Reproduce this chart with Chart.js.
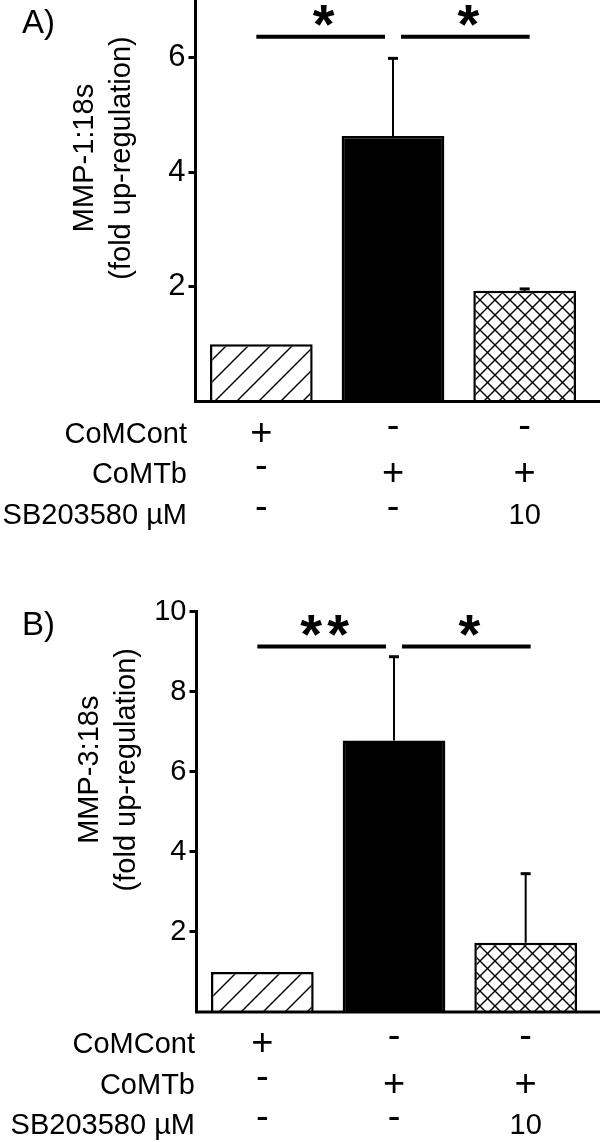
<!DOCTYPE html>
<html>
<head>
<meta charset="utf-8">
<script src="https://cdn.jsdelivr.net/npm/chart.js@4.4.0/dist/chart.umd.min.js"></script>
<style>
  html, body { margin: 0; padding: 0; background: #fff; }
  .panel { position: absolute; left: 0; width: 600px; height: 571px; }
  #panelA { top: 0; }
  #panelB { top: 571px; }
</style>
</head>
<body>
<div class="panel" id="panelA"><canvas id="chartA" width="600" height="571"></canvas></div>
<div class="panel" id="panelB"><canvas id="chartB" width="600" height="571"></canvas></div>
<script>
// Datos
const categories = ['CoMCont', 'CoMTb', 'CoMTb + SB203580'];
const rowLabels = ['CoMCont', 'CoMTb', 'SB203580 µM'];
const rowValues = [
    ['+', '-', '-'],
    ['-', '+', '+'],
    ['-', '-', '10']
];

const mmp1Values = [1.0, 4.63, 1.93];
const mmp1Errors = [0, 1.37, 0.05];
const mmp1Ticks = [2, 4, 6];
const mmp1Sig = [
    { from: 0, to: 1, y: 6.36, label: '*' },
    { from: 1, to: 2, y: 6.36, label: '*' }
];

const mmp3Values = [1.0, 6.78, 1.73];
const mmp3Errors = [0, 2.12, 1.75];
const mmp3Ticks = [2, 4, 6, 8, 10];
const mmp3Sig = [
    { from: 0, to: 1, y: 9.13, label: '**' },
    { from: 1, to: 2, y: 9.13, label: '*' }
];

const FONT = '"Liberation Sans", Arial, Helvetica, sans-serif';

function makeHatch(size, cross) {
    const c = document.createElement('canvas');
    c.width = size;
    c.height = size;
    const ctx = c.getContext('2d');
    ctx.fillStyle = '#fff';
    ctx.fillRect(0, 0, size, size);
    ctx.strokeStyle = '#000';
    ctx.lineWidth = 1.4;
    const seg = (x1, y1, x2, y2) => { ctx.beginPath(); ctx.moveTo(x1, y1); ctx.lineTo(x2, y2); ctx.stroke(); };
    seg(-1, size + 1, size + 1, -1);
    seg(-3, 3, 3, -3);
    seg(size - 3, size + 3, size + 3, size - 3);
    if (cross) {
        seg(-1, -1, size + 1, size + 1);
        seg(-3, size - 3, 3, size + 3);
        seg(size - 3, -3, size + 3, 3);
    }
    return ctx.createPattern(c, 'repeat');
}

const extrasPlugin = {
    id: 'extras',
    afterDatasetsDraw(chart) {
        const o = chart.options.plugins.extras;
        const ctx = chart.ctx;
        const x = chart.scales.x, y = chart.scales.y;
        const area = chart.chartArea;
        ctx.save();
        ctx.strokeStyle = '#000';
        ctx.fillStyle = '#000';

        // eje x prolongado hasta el borde
        ctx.lineWidth = 3;
        ctx.beginPath();
        ctx.moveTo(area.left - 1.5, area.bottom);
        ctx.lineTo(600, area.bottom);
        ctx.stroke();

        // barras de error (solo hacia arriba)
        o.values.forEach((v, i) => {
            const err = o.errors[i];
            if (!err) return;
            const cx = x.getPixelForValue(i);
            const top = y.getPixelForValue(v + err);
            ctx.lineWidth = 2;
            ctx.beginPath();
            ctx.moveTo(cx, y.getPixelForValue(v));
            ctx.lineTo(cx, top);
            ctx.stroke();
            ctx.lineWidth = 3;
            ctx.beginPath();
            ctx.moveTo(cx - 5, top + 1);
            ctx.lineTo(cx + 5, top + 1);
            ctx.stroke();
        });

        // líneas de significancia
        o.sig.forEach(s => {
            const ly = y.getPixelForValue(s.y);
            const x1 = x.getPixelForValue(s.from) + (s.from === 1 ? 8 : -5);
            const x2 = x.getPixelForValue(s.to) + (s.to === 1 ? -8 : 5);
            ctx.lineWidth = 4;
            ctx.beginPath();
            ctx.moveTo(x1, ly);
            ctx.lineTo(x2, ly);
            ctx.stroke();
            ctx.font = 'bold 56px ' + FONT;
            ctx.textAlign = 'center';
            ctx.textBaseline = 'alphabetic';
            const mid = (x1 + x2) / 2 + 3;
            const n = s.label.length;
            for (let k = 0; k < n; k++) {
                ctx.fillText('*', mid + (k - (n - 1) / 2) * 27, ly + 6);
            }
        });
        ctx.restore();
    },
    afterDraw(chart) {
        const o = chart.options.plugins.extras;
        const ctx = chart.ctx;
        const x = chart.scales.x;
        const area = chart.chartArea;
        ctx.save();
        ctx.fillStyle = '#000';

        // título del eje y (dos líneas, rotado)
        ctx.font = '29px ' + FONT;
        ctx.textAlign = 'center';
        ctx.textBaseline = 'middle';
        o.title.forEach((line, i) => {
            ctx.save();
            ctx.translate(o.titleX[i], area.top + o.titleMid);
            ctx.rotate(-Math.PI / 2);
            ctx.fillText(line, 0, 0);
            ctx.restore();
        });

        // letra del panel
        ctx.font = '33px ' + FONT;
        ctx.textAlign = 'left';
        ctx.textBaseline = 'alphabetic';
        ctx.fillText(o.letter, 22, o.letterY);

        // tabla de tratamientos bajo el eje
        rowLabels.forEach((label, r) => {
            const by = area.bottom + 41 + r * 40.5;
            ctx.font = '29px ' + FONT;
            ctx.textAlign = 'right';
            ctx.fillText(label, o.labelRight, by);
            ctx.textAlign = 'center';
            rowValues[r].forEach((val, c) => {
                const cx = x.getPixelForValue(c);
                if (val === '+' || val === '-') {
                    ctx.font = '38px ' + FONT;
                    ctx.fillText(val, cx, val === '-' ? by - 5 : by + 2);
                } else {
                    ctx.font = '29px ' + FONT;
                    ctx.fillText(val, cx, by);
                }
            });
        });
        ctx.restore();
    }
};

function buildPanel(canvasId, p) {
    const canvas = document.getElementById(canvasId);
    const H = canvas.height;
    return new Chart(canvas.getContext('2d'), {
        type: 'bar',
        data: {
            labels: categories,
            datasets: [{
                data: p.values,
                backgroundColor: [makeHatch(22, false), '#000', makeHatch(15, true)],
                borderColor: '#000',
                borderWidth: 2.5,
                barPercentage: 0.78,
                categoryPercentage: 1
            }]
        },
        options: {
            responsive: false,
            animation: false,
            devicePixelRatio: 1,
            layout: { padding: { top: p.top, right: 600 - p.right, left: 0, bottom: 0 } },
            plugins: {
                legend: { display: false },
                tooltip: { enabled: false },
                extras: {
                    values: p.values, errors: p.errors, sig: p.sig,
                    title: p.title, titleX: p.titleX, titleMid: 158,
                    letter: p.letter, letterY: p.letterY, labelRight: p.labelRight
                }
            },
            scales: {
                x: {
                    grid: { display: false },
                    border: { display: false },
                    ticks: { display: false },
                    afterFit: s => { s.height = H - p.bottom; s.paddingLeft = 0; s.paddingRight = 0; }
                },
                y: {
                    min: 0,
                    max: p.max,
                    afterBuildTicks: s => { s.ticks = p.ticks.map(v => ({ value: v })); },
                    afterFit: s => { s.width = p.left; s.paddingTop = 0; s.paddingBottom = 0; },
                    border: { display: true, color: '#000', width: 3 },
                    grid: { drawOnChartArea: false, drawTicks: true, tickLength: 7, tickWidth: 3, tickColor: '#000' },
                    ticks: { color: '#000', padding: 3, font: { family: FONT, size: p.tickSize } }
                }
            }
        },
        plugins: [extrasPlugin]
    });
}

buildPanel('chartA', {
    values: mmp1Values, errors: mmp1Errors, sig: mmp1Sig, ticks: mmp1Ticks, max: 7,
    title: ['MMP-1:18s', '(fold up-regulation)'], titleX: [85, 122],
    letter: 'A)', letterY: 33, labelRight: 187,
    top: 0, bottom: 401.5, left: 195.5, right: 590.5, tickSize: 31
});

buildPanel('chartB', {
    values: mmp3Values, errors: mmp3Errors, sig: mmp3Sig, ticks: mmp3Ticks, max: 10,
    title: ['MMP-3:18s', '(fold up-regulation)'], titleX: [90, 127],
    letter: 'B)', letterY: 64, labelRight: 195,
    top: 40.7, bottom: 441, left: 196.5, right: 591.5, tickSize: 29
});
</script>
</body>
</html>
